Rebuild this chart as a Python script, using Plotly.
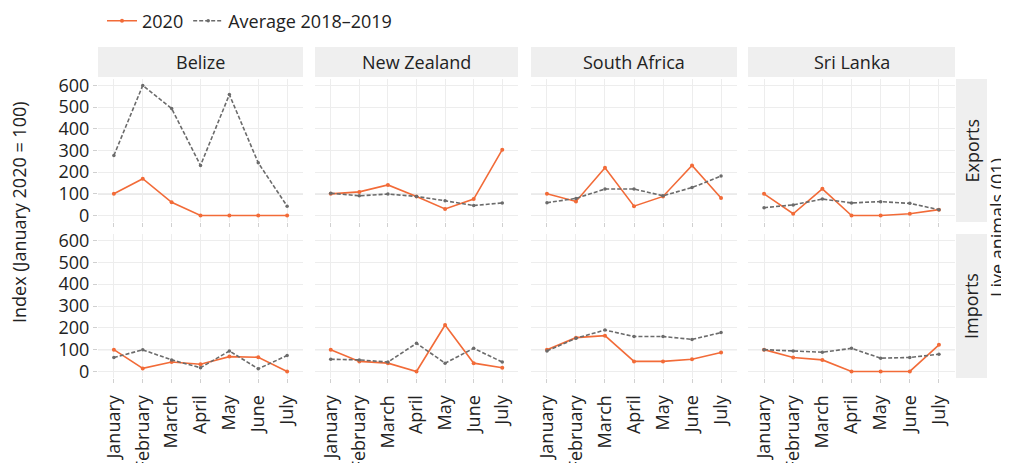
import plotly.graph_objects as go
from plotly.subplots import make_subplots

months = ["January", "February", "March", "April", "May", "June", "July"]
countries = ["Belize", "New Zealand", "South Africa", "Sri Lanka"]
flows = ["Exports", "Imports"]

# Exports, 2020 and average 2018-2019 (index, January 2020 = 100)
exp_2020_belize = [100, 170, 61, 0, 0, 0, 0]
exp_avg_belize = [277, 600, 494, 231, 558, 243, 43]
exp_2020_nz = [100, 109, 141, 88, 30, 76, 304]
exp_avg_nz = [103, 91, 99, 88, 68, 46, 58]
exp_2020_sa = [100, 65, 220, 43, 88, 231, 81]
exp_avg_sa = [59, 79, 122, 122, 91, 129, 182]
exp_2020_sl = [100, 8, 123, 0, 0, 8, 27]
exp_avg_sl = [36, 49, 76, 58, 64, 56, 27]

# Imports
imp_2020_belize = [100, 14, 43, 33, 68, 65, 0]
imp_avg_belize = [64, 99, 53, 17, 94, 12, 73]
imp_2020_nz = [100, 46, 38, 0, 213, 38, 17]
imp_avg_nz = [56, 53, 43, 129, 38, 106, 43]
imp_2020_sa = [100, 155, 164, 46, 46, 56, 87]
imp_avg_sa = [94, 152, 190, 160, 160, 147, 178]
imp_2020_sl = [100, 64, 53, 0, 0, 0, 122]
imp_avg_sl = [100, 94, 88, 106, 61, 64, 79]

y_ticks = [0, 100, 200, 300, 400, 500, 600]

series = {
    ("Exports", "Belize"): (exp_2020_belize, exp_avg_belize),
    ("Exports", "New Zealand"): (exp_2020_nz, exp_avg_nz),
    ("Exports", "South Africa"): (exp_2020_sa, exp_avg_sa),
    ("Exports", "Sri Lanka"): (exp_2020_sl, exp_avg_sl),
    ("Imports", "Belize"): (imp_2020_belize, imp_avg_belize),
    ("Imports", "New Zealand"): (imp_2020_nz, imp_avg_nz),
    ("Imports", "South Africa"): (imp_2020_sa, imp_avg_sa),
    ("Imports", "Sri Lanka"): (imp_2020_sl, imp_avg_sl),
}

# the page has an 8px body margin, so the figure is a little smaller
# and every window pixel position is shifted back by OFF
OFF = 8
W, H = 1009 - OFF, 463 - OFF
FONT = "Open Sans"
ORANGE = "#F26B38"
GREY = "#6B6B6B"
TXT = "#222222"


def px(x):
    return (x - OFF) / W


def py(y):
    return 1 - (y - OFF) / H


# panel positions in window pixels
col_px = [(98, 303), (315, 518), (531, 737), (748, 955)]
row_px = [(79, 222), (234, 378)]

fig = make_subplots(rows=2, cols=4)

for r, flow in enumerate(flows):
    for c, country in enumerate(countries):
        v2020, vavg = series[(flow, country)]
        first = (r == 0 and c == 0)
        fig.add_trace(go.Scatter(
            x=months, y=v2020, name="2020", mode="lines+markers",
            line=dict(color=ORANGE, width=1.6),
            marker=dict(size=4, color=ORANGE),
            showlegend=first, legendgroup="2020"
        ), row=r + 1, col=c + 1)
        fig.add_trace(go.Scatter(
            x=months, y=vavg, name="Average 2018\u20132019", mode="lines+markers",
            line=dict(color=GREY, width=1.6, dash="4px,2px"),
            marker=dict(size=3.5, color=GREY),
            showlegend=first, legendgroup="avg"
        ), row=r + 1, col=c + 1)

for r in range(2):
    y0, y1 = row_px[r]
    for c in range(4):
        x0, x1 = col_px[c]
        idx = r * 4 + c + 1
        sfx = "" if idx == 1 else str(idx)
        fig.layout["xaxis" + sfx].update(
            domain=[px(x0), px(x1)], range=[-0.55, 6.55], automargin=False,
            showgrid=True, gridcolor="#EDEDED", gridwidth=1,
            zeroline=False, showline=False,
            ticks="outside", ticklen=4, tickcolor="#D0D0D0",
            showticklabels=(r == 1), tickangle=-90, ticklabelstandoff=5,
            tickfont=dict(family=FONT, size=18, color=TXT),
            categoryorder="array", categoryarray=months,
        )
        fig.layout["yaxis" + sfx].update(
            domain=[py(y1), py(y0)], range=[-30, 630], automargin=False,
            tickvals=y_ticks,
            showgrid=True, gridcolor="#EDEDED", gridwidth=1,
            zeroline=False, showline=False,
            ticks="outside" if c == 0 else "", ticklen=4, tickcolor="#D0D0D0",
            showticklabels=(c == 0),
            tickfont=dict(family=FONT, size=18, color=TXT),
        )
        # reference line at 100
        fig.add_shape(type="line", xref=f"x{sfx} domain", yref=f"y{sfx}",
                      x0=0, x1=1, y0=100, y1=100,
                      line=dict(color="#D6D6D6", width=1.2), layer="below")

# top strips
for c, country in enumerate(countries):
    x0, x1 = col_px[c]
    fig.add_shape(type="rect", xref="paper", yref="paper",
                  x0=px(x0), x1=px(x1), y0=py(77), y1=py(47),
                  fillcolor="#EFEFEF", line=dict(width=0), layer="below")
    fig.add_annotation(xref="paper", yref="paper", x=px((x0 + x1) / 2), y=py(62),
                       xanchor="center", yanchor="middle",
                       text=country, showarrow=False,
                       font=dict(family=FONT, size=18, color=TXT))

# right strips
for r, flow in enumerate(flows):
    y0, y1 = row_px[r]
    fig.add_shape(type="rect", xref="paper", yref="paper",
                  x0=px(956), x1=px(987), y0=py(y1), y1=py(y0),
                  fillcolor="#EFEFEF", line=dict(width=0), layer="below")
    fig.add_annotation(xref="paper", yref="paper", x=px(971), y=py((y0 + y1) / 2),
                       xanchor="center", yanchor="middle",
                       text=flow, showarrow=False, textangle=-90,
                       font=dict(family=FONT, size=18, color=TXT))

# outer titles
fig.add_annotation(xref="paper", yref="paper", x=px(19), y=py(212),
                   xanchor="center", yanchor="middle",
                   text="Index (January 2020 = 100)", showarrow=False, textangle=-90,
                   font=dict(family=FONT, size=18, color=TXT))
fig.add_annotation(xref="paper", yref="paper", x=px(997), y=py(228),
                   xanchor="center", yanchor="middle",
                   text="Live animals (01)", showarrow=False, textangle=-90,
                   font=dict(family=FONT, size=18, color=TXT))

fig.update_layout(
    width=W, height=H,
    margin=dict(l=0, r=0, t=0, b=0, autoexpand=False),
    paper_bgcolor="white", plot_bgcolor="white",
    font=dict(family=FONT, size=18, color=TXT),
    legend=dict(orientation="h", x=px(102), y=py(21), xanchor="left", yanchor="middle",
                font=dict(family=FONT, size=18, color=TXT),
                bgcolor="rgba(0,0,0,0)", tracegroupgap=0),
)

fig.write_html("out.html")
